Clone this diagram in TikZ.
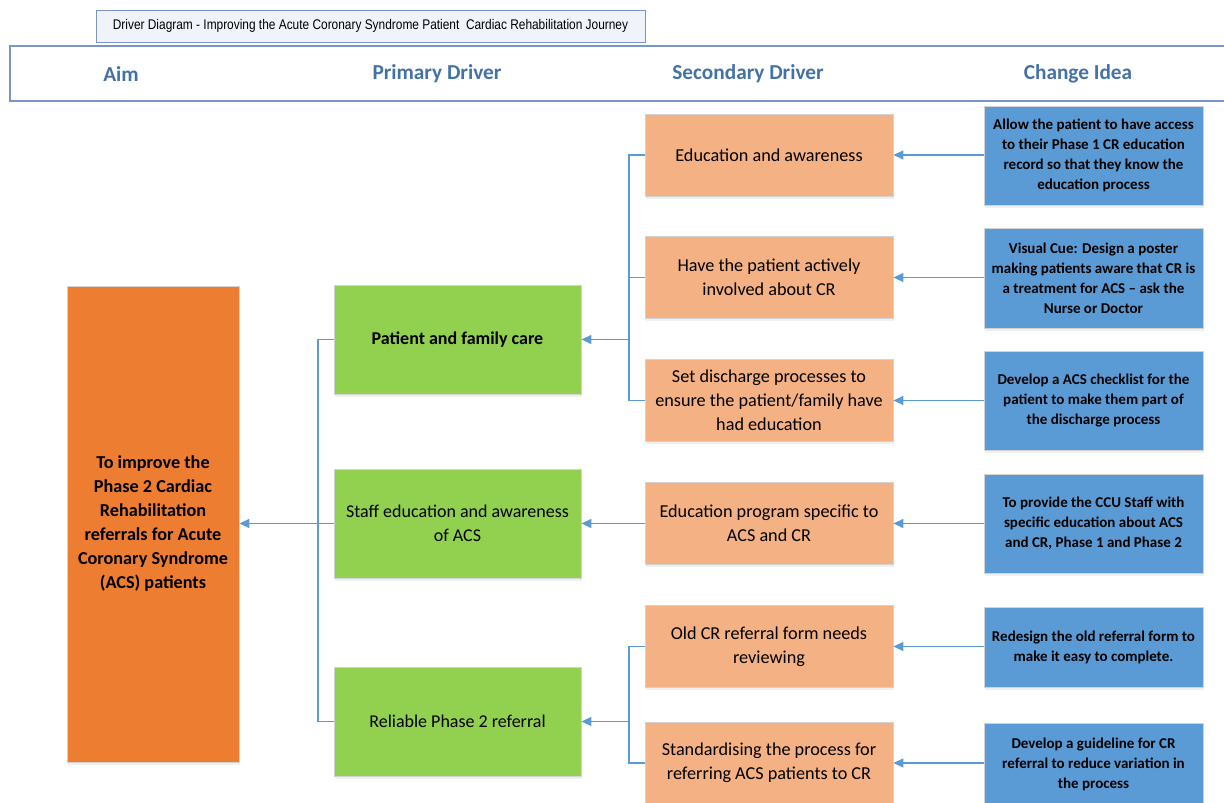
\documentclass[tikz,border=0pt]{standalone}
\usepackage{fontspec}
\setmainfont{Carlito}
\newfontfamily\narrowfont{Liberation Sans}[FakeStretch=0.85]
\usetikzlibrary{arrows.meta,shadows,calc}
\definecolor{aimc}{RGB}{237,125,49}
\definecolor{primc}{RGB}{146,208,80}
\definecolor{secc}{RGB}{244,177,131}
\definecolor{chgc}{RGB}{91,155,213}
\definecolor{linec}{RGB}{91,155,213}
\definecolor{headc}{RGB}{68,114,166}
\definecolor{framec}{RGB}{120,150,195}
\definecolor{titlefill}{RGB}{240,244,250}
\definecolor{edgec}{RGB}{210,210,210}
\tikzset{
  box/.style={draw=edgec, line width=0.8pt, align=center, inner sep=0pt,
    drop shadow={opacity=0.12, shadow xshift=1pt, shadow yshift=-2.5pt}},
  aimbox/.style={box, fill=aimc, minimum width=172pt, minimum height=476pt,
    font=\fontsize{18.2}{24}\selectfont\bfseries},
  primbox/.style={box, fill=primc, minimum width=247pt, minimum height=109pt,
    font=\fontsize{18}{24.5}\selectfont},
  secbox/.style={box, fill=secc, minimum width=248pt, minimum height=82pt,
    font=\fontsize{18.2}{24}\selectfont},
  chgbox/.style={box, fill=chgc, minimum width=219pt,
    font=\fontsize{15}{20}\selectfont\bfseries},
  header/.style={font=\fontsize{21.3}{24}\selectfont\bfseries, text=headc},
  conn/.style={draw=linec, line width=1.4pt},
  arr/.style={conn, -{Triangle[length=10pt,width=9pt]}},
}
\begin{document}
\begin{tikzpicture}[x=1pt,y=-1pt]
\useasboundingbox (0,0) rectangle (1224,803);
% title
\node[draw=framec, line width=0.8pt, fill=titlefill, minimum width=549pt, minimum height=32pt,
  font=\narrowfont\fontsize{14}{16}\selectfont] (title) at (370.5,26)
  {Driver Diagram - Improving the Acute Coronary Syndrome Patient\ \ Cardiac Rehabilitation Journey};
% header band
\draw[draw=framec, line width=1.3pt] (1224,46) -- (10,46) -- (10,101) -- (1224,101);
\node[header] (hAim) at (121,74) {Aim};
\node[header] (hPri) at (437,74) {Primary Driver};
\node[header] (hSec) at (748,74) {Secondary Driver};
\node[header] (hChg) at (1078,74) {Change Idea};
% aim
\node[aimbox] (aim) at (153,524) {To improve the\\Phase 2 Cardiac\\Rehabilitation\\referrals for Acute\\Coronary Syndrome\\(ACS) patients};
% primary
\node[primbox, font=\fontsize{18}{24}\selectfont\bfseries] (p1) at (457.5,339.5) {Patient and family care};
\node[primbox] (p2) at (457.5,523.5) {Staff education and awareness\\of ACS};
\node[primbox] (p3) at (457.5,721.5) {Reliable Phase 2 referral};
% secondary
\node[secbox] (s1) at (769,155) {Education and awareness};
\node[secbox] (s2) at (769,277.5) {Have the patient actively\\involved about CR};
\node[secbox] (s3) at (769,400.5) {Set discharge processes to\\ensure the patient/family have\\had education};
\node[secbox] (s4) at (769,523.5) {Education program specific to\\ACS and CR};
\node[secbox] (s5) at (769,646.5) {Old CR referral form needs\\reviewing};
\node[secbox] (s6) at (769,763) {Standardising the process for\\referring ACS patients to CR};
% change ideas
\node[chgbox, minimum height=99pt] (c1) at (1093.5,155.5) {Allow the patient to have access\\to their Phase 1 CR education\\record so that they know the\\education process};
\node[chgbox, minimum height=100pt] (c2) at (1093.5,278) {Visual Cue: Design a poster\\making patients aware that CR is\\a treatment for ACS -- ask the\\Nurse or Doctor};
\node[chgbox, minimum height=99pt] (c3) at (1093.5,400.5) {Develop a ACS checklist for the\\patient to make them part of\\the discharge process};
\node[chgbox, minimum height=99pt] (c4) at (1093.5,523.5) {To provide the CCU Staff with\\specific education about ACS\\and CR, Phase 1 and Phase 2};
\node[chgbox, minimum height=80pt] (c5) at (1093.5,647) {Redesign the old referral form to\\make it easy to complete.};
\node[chgbox, minimum height=82pt] (c6) at (1093.5,764) {Develop a guideline for CR\\referral to reduce variation in\\the process};
% change -> secondary
\foreach \i in {1,...,6} { \draw[arr] (c\i.west |- s\i.east) -- (s\i.east); }
% junction coordinates
\coordinate (ja) at (629,400.5);
\coordinate (jb) at (629,763);
\coordinate (jp) at (318,721.5);
% secondary brackets
\draw[conn] (s1.west) -| (ja) -- (s3.west);
\draw[conn] (s2.west) -- (s2.west -| ja);
\draw[arr] (ja |- p1.east) -- (p1.east);
\draw[arr] (s4.west) -- (s4.west -| p2.east);
\draw[conn] (s5.west) -| (jb) -- (s6.west);
\draw[arr] (jb |- p3.east) -- (p3.east);
% primary bracket
\draw[conn] (p1.west) -| (jp) -- (p3.west);
\draw[arr] (p2.west) -- (p2.west -| aim.east);
\end{tikzpicture}
\end{document}
